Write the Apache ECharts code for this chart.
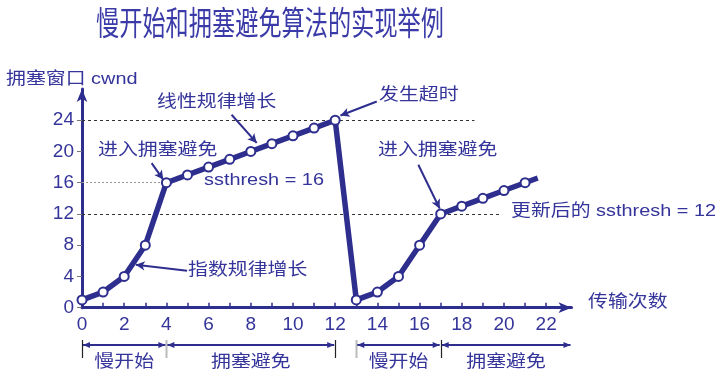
<!DOCTYPE html>
<html><head><meta charset="utf-8">
<script src="https://cdn.jsdelivr.net/npm/echarts@6/dist/echarts.min.js"></script>
<style>html,body{margin:0;padding:0;background:#fff}#c{width:726px;height:376px}</style>
</head><body><div id="c"></div>
<script>
// ---- data ----
const rounds = [0,1,2,3,4,5,6,7,8,9,10,11,12,13,14,15,16,17,18,19,20,21];
const cwnd   = [1,2,4,8,16,17,18,19,20,21,22,23,24,1,2,4,8,12,13,14,15,16];
const tailPoint = [21.6, 16.6];           // line continues past last marked point
const xTickValues = [0,1,2,3,4,5,6,7,8,9,10,11,12,13,14,15,16,17,18,19,20,21,22];
const xLabelValues = [0,2,4,6,8,10,12,14,16,18,20,22];
const yTickValues = [0,4,8,12,16,20,24];
const thresholdValues = [24, 16, 12];
const thresholdEnds = [18.6, 4, 19.9];
const phaseStart = [0, 4, 13, 17];
const phaseEnd   = [4, 12, 17, 23.2];
const phaseLabels = ['慢开始', '拥塞避免', '慢开始', '拥塞避免'];
const separatorX = [0, 4, 12, 13, 17];

const LINE = '#2e2e8e';
const TEXT = '#34349a';
const FF = "'Liberation Sans','Noto Sans CJK SC',sans-serif";

const chart = echarts.init(document.getElementById('c'), null, {renderer:'canvas'});

const seriesData = rounds.map((r, i) => [r, cwnd[i]]);
seriesData.push({value: tailPoint, symbol: 'none'});

const thrStyles = [
  {color:'#333', width:1, type:[3,3]},
  {color:'#999', width:1, type:[2,2]},
  {color:'#333', width:1, type:[3,3]}
];
const thresholdLines = thresholdValues.map((v, i) => [
  {coord:[0, v], lineStyle: thrStyles[i]},
  {coord:[thresholdEnds[i], v]}
]);

// annotation pointer lines (data coords)
const pointers = [
  [[7.09, 24.7], [8.28, 21.1]],   // 线性规律增长
  [[13.97, 26.4], [12.25, 24.6]], // 发生超时
  [[3.30, 18.5], [3.85, 16.4]],   // 进入拥塞避免 1
  [[4.98, 4.74], [2.55, 5.5]],    // 指数规律增长
  [[15.94, 18.3], [16.95, 12.7]]  // 进入拥塞避免 2
];

const option = {
  animation: false,
  grid: {left: 82, right: 154.5, top: 89, bottom: 68.3},
  xAxis: {
    type: 'value', min: 0, max: 23.2,
    axisLine: {show: true, lineStyle: {color: LINE, width: 3}, symbol: ['none','arrow'], symbolSize: [8, 13]},
    axisTick: {show: true, inside: true, length: 5, customValues: xTickValues, lineStyle: {color: LINE, width: 1.5}},
    axisLabel: {customValues: xLabelValues, color: TEXT, fontSize: 19, fontFamily: FF, margin: 8},
    splitLine: {show: false}
  },
  yAxis: {
    type: 'value', min: 0, max: 28,
    axisLine: {show: true, lineStyle: {color: LINE, width: 3}, symbol: ['none','arrow'], symbolSize: [8, 13]},
    axisTick: {show: true, inside: false, length: 5, customValues: yTickValues, lineStyle: {color: '#777', width: 1}},
    axisLabel: {customValues: yTickValues, color: TEXT, fontSize: 19, fontFamily: FF, margin: 8},
    splitLine: {show: false}
  },
  series: [
    {
      type: 'line',
      data: seriesData,
      z: 5,
      lineStyle: {color: LINE, width: 5.5},
      symbol: 'circle', symbolSize: 9,
      itemStyle: {color: '#fff', borderColor: LINE, borderWidth: 2},
      markLine: {
        silent: true, symbol: ['none','none'], label: {show: false},
        data: thresholdLines, z: 1
      }
    },
    {
      type: 'line', data: [], showSymbol: false,
      markLine: {
        silent: true, symbol: ['none','arrow'], symbolSize: [7, 9], label: {show: false},
        lineStyle: {color: LINE, width: 2, type: 'solid'},
        data: pointers.map(p => [{coord: p[0]}, {coord: p[1]}])
      }
    }
  ]
};
chart.setOption(option);

function txt(x, y, s, size, sx, align, sy) {
  return {type:'text', x:x, y:y, scaleX: sx || 1, scaleY: sy || 1,
    style:{text:s, fill:TEXT, font: size + 'px ' + FF, textAlign: align || 'left', textVerticalAlign:'middle'}, z: 10};
}

const S = 1.17;
const g = [];
g.push({type:'text', x:270, y:26, scaleX:0.8, scaleY:1.12,
  style:{text:'慢开始和拥塞避免算法的实现举例', fill:'#3a3aa8', font:'29px ' + FF, textAlign:'center', textVerticalAlign:'middle'}});
g.push(txt(6, 79, '拥塞窗口 cwnd', 17, S));
g.push(txt(588, 302, '传输次数', 17, S));
g.push(txt(157, 102, '线性规律增长', 17, S));
g.push(txt(379, 95, '发生超时', 17, S));
g.push(txt(98, 150, '进入拥塞避免', 17, S));
g.push(txt(378, 150, '进入拥塞避免', 17, S));
g.push(txt(204, 180, 'ssthresh = 16', 17, S));
g.push(txt(188, 270, '指数规律增长', 17, S));
g.push(txt(511, 211, '更新后的 ssthresh = 12', 17, S));

// phase brackets below axis
const BY = 345;
const px = v => chart.convertToPixel({gridIndex: 0}, [v, 0])[0];
separatorX.forEach((v, i) => {
  const x = Math.round(px(v)) + 0.5;
  const gray = (v === 4 || v === 13);
  g.push({type:'line', shape:{x1:x, y1:340, x2:x, y2:358}, style:{stroke: gray ? '#bbb' : '#222', lineWidth: gray ? 2 : 1.2}});
});
phaseStart.forEach((s, i) => {
  const x1 = px(s) + 1, x2 = px(phaseEnd[i]) - 1;
  g.push({type:'line', shape:{x1:x1, y1:BY, x2:x2, y2:BY}, style:{stroke: LINE, lineWidth: 2}});
  g.push({type:'polygon', shape:{points:[[x1, BY], [x1 + 7, BY - 3], [x1 + 7, BY + 3]]}, style:{fill: LINE}});
  g.push({type:'polygon', shape:{points:[[x2, BY], [x2 - 7, BY - 3], [x2 - 7, BY + 3]]}, style:{fill: LINE}});
  g.push(txt((px(s) + px(phaseEnd[i])) / 2, 362, phaseLabels[i], 17, S, 'center'));
});
chart.setOption({graphic: g});
</script></body></html>
